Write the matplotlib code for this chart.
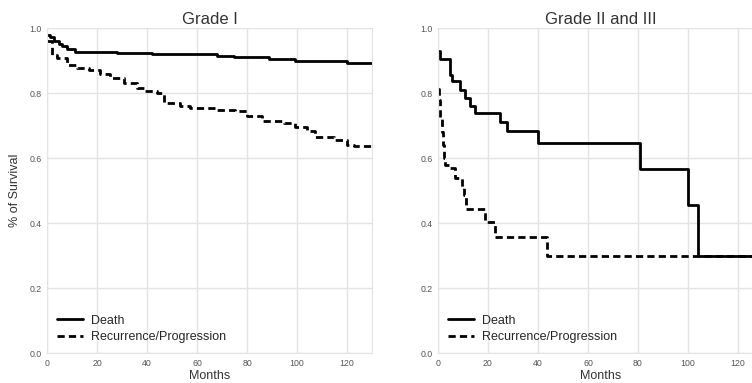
import matplotlib
matplotlib.use("Agg")
import matplotlib.pyplot as plt
import seaborn as sns

# Grade I
g1_death_t = [0, 1.3, 2.7, 4.7, 6, 8, 11.3, 20, 28, 42, 48, 68, 74.7, 88.7, 99, 120, 130]
g1_death_s = [0.979, 0.974, 0.959, 0.951, 0.944, 0.935, 0.928, 0.926, 0.924, 0.921, 0.919,
              0.915, 0.911, 0.906, 0.900, 0.893, 0.893]
g1_rec_t = [0, 2, 4, 8, 12, 16.7, 21, 25, 30.7, 36, 38.7, 44, 46.7, 53, 57, 67, 75, 80, 86,
            94.7, 99, 104, 107, 114.7, 120, 122.7, 130]
g1_rec_s = [0.959, 0.918, 0.908, 0.887, 0.877, 0.870, 0.860, 0.846, 0.831, 0.815, 0.808,
            0.800, 0.771, 0.761, 0.754, 0.749, 0.744, 0.730, 0.715, 0.708, 0.697, 0.682,
            0.665, 0.656, 0.641, 0.636, 0.636]

# Grade II and III
g23_death_t = [0, 0.7, 5, 5.7, 9, 10.8, 13, 14.8, 25, 27.7, 40, 81, 100, 104, 130]
g23_death_s = [0.931, 0.905, 0.856, 0.836, 0.810, 0.785, 0.761, 0.738, 0.710, 0.683,
               0.648, 0.566, 0.456, 0.300, 0.300]
g23_rec_t = [0, 0.5, 1, 1.5, 2, 2.5, 3, 5, 7, 9.5, 10.4, 11.3, 18.8, 22.8, 43.7, 130]
g23_rec_s = [0.812, 0.78, 0.72, 0.68, 0.64, 0.60, 0.58, 0.57, 0.54, 0.51, 0.487, 0.443,
             0.402, 0.356, 0.299, 0.299]

sns.set_style("whitegrid")
plt.rcParams['font.family'] = ['Arial', 'Liberation Sans', 'DejaVu Sans']

fig = plt.figure(figsize=(7.52, 3.83), dpi=100)
ax1 = fig.add_axes([0.0625, 0.078, 0.4322, 0.8486])
ax2 = fig.add_axes([0.5824, 0.078, 0.4322, 0.8486])

panels = [
    (ax1, "Grade I", g1_death_t, g1_death_s, g1_rec_t, g1_rec_s),
    (ax2, "Grade II and III", g23_death_t, g23_death_s, g23_rec_t, g23_rec_s),
]

for ax, title, dt, ds, rt, rs in panels:
    ax.plot(dt, ds, color="black", lw=2.0, drawstyle="steps-post", label="Death")
    ax.plot(rt, rs, color="black", lw=2.0, ls=(0, (2.6, 1.5)), drawstyle="steps-post",
            label="Recurrence/Progression")
    ax.set_xlim(0, 130)
    ax.set_ylim(0, 1.0)
    ax.set_xticks(range(0, 121, 20))
    ax.set_yticks([0.0, 0.2, 0.4, 0.6, 0.8, 1.0])
    ax.tick_params(labelsize=6.3, colors="#555555", length=0, pad=4)
    ax.grid(color="#e3e3e3", lw=1.0)
    for sp in ax.spines.values():
        sp.set_color("#e3e3e3")
    ax.set_title(title, fontsize=12, color="#333333", pad=3)
    ax.set_xlabel("Months", fontsize=9, color="#333333", labelpad=2)
    ax.legend(loc="lower left", frameon=False, fontsize=9, handlelength=2.1,
              borderaxespad=0.4, labelspacing=0.35, handletextpad=0.6)

ax1.set_ylabel("% of Survival", fontsize=9, color="#333333", labelpad=6)

fig.savefig("out.png", dpi=100)
